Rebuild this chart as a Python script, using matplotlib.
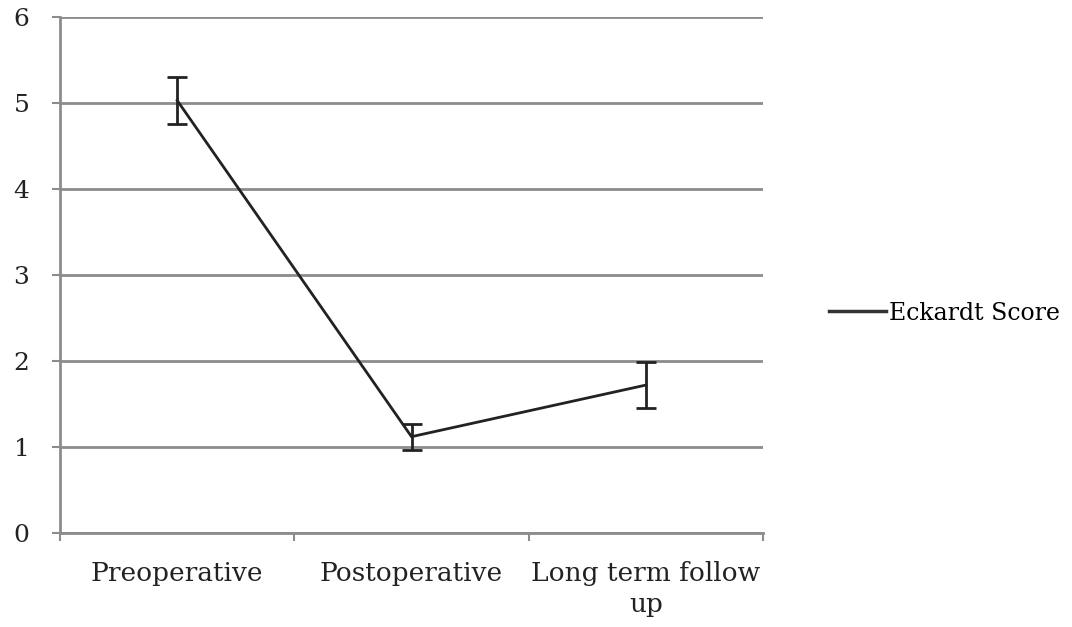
import matplotlib
matplotlib.use("Agg")
import matplotlib.pyplot as plt
import numpy as np

categories = ["Preoperative", "Postoperative", "Long term follow\nup"]
means = [5.03, 1.12, 1.72]
errors = [0.27, 0.15, 0.27]
yticks = [0, 1, 2, 3, 4, 5, 6]
series_name = "Eckardt Score"

plt.rcParams['font.family'] = ['DejaVu Serif']

fig = plt.figure(figsize=(10.72, 6.27), dpi=100)
ax = fig.add_axes([60/1072, (627-533)/627, (763-60)/1072, (533-17)/627])

x = np.arange(len(categories))
ax.errorbar(x, means, yerr=errors, color='#222222', lw=2, capsize=7, capthick=2,
            elinewidth=2, label=series_name, zorder=3)

ax.set_xlim(-0.5, len(categories) - 0.5)
ax.set_ylim(0, 6)
ax.set_yticks(yticks)
ax.set_yticklabels([str(t) for t in yticks], fontsize=18, color='#222222')
ax.yaxis.grid(True, color='#8c8c8c', lw=2)
ax.set_axisbelow(True)

ax.set_xticks(x)
ax.set_xticklabels(categories, fontsize=19, linespacing=1.3, color='#222222')
ax.tick_params(axis='x', which='major', length=0, pad=20)
ax.set_xticks(np.arange(-0.5, len(categories), 1), minor=True)
ax.tick_params(axis='x', which='minor', length=6, width=1.5, color='#8c8c8c', direction='out')
ax.tick_params(axis='y', length=6, width=1.5, color='#8c8c8c', direction='out', pad=16)

for s in ['top', 'right']:
    ax.spines[s].set_visible(False)
for s in ['left', 'bottom']:
    ax.spines[s].set_color('#8c8c8c')
    ax.spines[s].set_linewidth(2)

handle = plt.Line2D([0], [0], color='#333333', lw=2.5)
fig.legend([handle], [series_name], loc='center left', bbox_to_anchor=(808/1072, 1 - 313/627),
           frameon=False, fontsize=17, handlelength=2.4, handletextpad=0.15)

fig.savefig("out.png", dpi=100)
